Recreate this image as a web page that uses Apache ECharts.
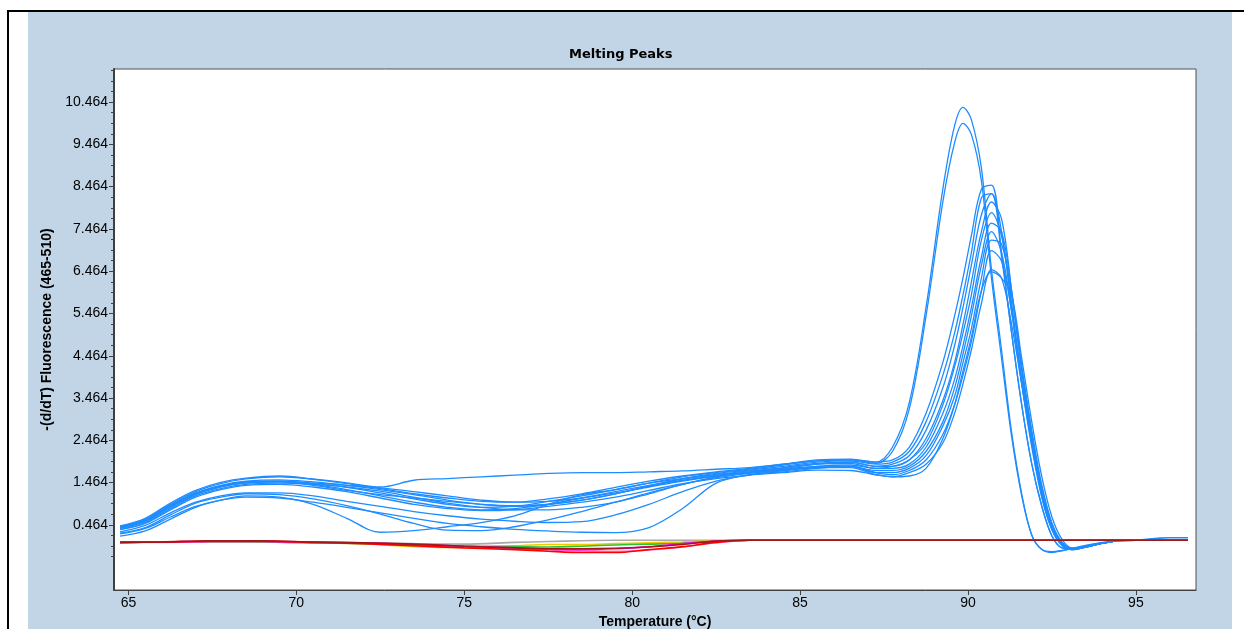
<!DOCTYPE html>
<html><head><meta charset="utf-8">
<script src="https://cdn.jsdelivr.net/npm/echarts@6/dist/echarts.min.js"></script>
<style>
html,body{margin:0;padding:0;background:#fff;width:1244px;height:629px;overflow:hidden}
#frame{position:absolute;left:28px;top:12px;width:1204px;height:617px;background:#c2d5e6}
#topline{position:absolute;left:7px;top:10px;width:1237px;height:2px;background:#000}
#leftline{position:absolute;left:7px;top:10px;width:2px;height:619px;background:#000}
#chart{position:absolute;left:0;top:0;width:1244px;height:629px}
</style></head><body>
<div id="frame"></div><div id="topline"></div><div id="leftline"></div>
<div id="chart"></div>
<script>
// ---- data ----
const xTicks = [65, 70, 75, 80, 85, 90, 95];
const yTicks = [0.464, 1.464, 2.464, 3.464, 4.464, 5.464, 6.464, 7.464, 8.464, 9.464, 10.464];
const yMinorTicks = [-0.286, -0.036, 0.214, 0.714, 0.964, 1.214, 1.714, 1.964, 2.214, 2.714, 2.964, 3.214,
  3.714, 3.964, 4.214, 4.714, 4.964, 5.214, 5.714, 5.964, 6.214, 6.714, 6.964, 7.214, 7.714, 7.964, 8.214,
  8.714, 8.964, 9.214, 9.714, 9.964, 10.214, 10.714, 10.964, 11.214];

const temps = [64.75, 65.5, 66.25, 67, 67.75, 68.5, 69.5, 70.5, 71.5, 72.5, 73.5, 74.5, 75.5, 76.5, 77.5,
  78.5, 79.5, 80.5, 81.5, 82.5, 83.5, 84.5, 85.5, 86.5,
  87.25, 87.75, 88.25, 88.75, 89.25, 89.6, 89.85, 90.1, 90.4, 90.7, 91.0, 91.3, 91.6, 91.9, 92.2, 92.5,
  92.8, 93.1, 93.5, 94.0, 94.4];

const sampleA1 = [0.42,0.6,0.95,1.25,1.44,1.55,1.6,1.54,1.44,1.32,1.2,1.1,1.02,1.0,1.08,1.2,1.35,1.5,1.62,1.72,1.8,1.9,2.0,2.02,
  1.95,2.3,3.35,5.6,8.4,9.9,10.34,10.05,8.9,6.5,4.6,2.65,1.2,0.22,-0.12,-0.19,-0.15,-0.1,-0.03,0.04,0.08];
const sampleA2 = [0.38,0.55,0.9,1.2,1.38,1.48,1.5,1.45,1.35,1.22,1.08,0.95,0.88,0.9,1.02,1.15,1.3,1.45,1.6,1.7,1.78,1.88,1.98,2.0,
  1.92,2.2,3.2,5.4,8.1,9.5,9.96,9.7,8.6,6.3,4.4,2.55,1.15,0.22,-0.12,-0.17,-0.14,-0.09,-0.02,0.05,0.08];
const sampleB1 = [0.44,0.62,0.98,1.28,1.47,1.57,1.62,1.55,1.46,1.36,1.52,1.56,1.6,1.64,1.68,1.7,1.7,1.72,1.74,1.78,1.82,1.9,1.98,2.0,
  1.95,2.0,2.3,3.1,4.3,5.4,6.3,7.3,8.4,8.5,6.9,5.0,3.3,1.9,0.9,0.2,-0.08,-0.11,-0.05,0.03,0.08];
const sampleB2 = [0.42,0.58,0.92,1.22,1.4,1.5,1.53,1.48,1.4,1.3,1.18,1.05,0.95,0.9,0.95,1.05,1.2,1.38,1.55,1.68,1.76,1.85,1.95,1.98,
  1.9,1.95,2.2,2.9,4.0,5.0,5.9,6.9,8.2,8.3,6.8,5.0,3.3,1.9,0.9,0.2,-0.08,-0.1,-0.05,0.03,0.08];
const sampleB3 = [0.4,0.55,0.88,1.18,1.36,1.45,1.48,1.45,1.4,1.34,1.25,1.15,1.05,1.0,1.02,1.1,1.22,1.36,1.5,1.62,1.72,1.8,1.9,1.95,
  1.85,1.9,2.1,2.7,3.7,4.7,5.6,6.6,7.8,8.3,7.4,5.6,3.8,2.3,1.1,0.35,-0.02,-0.12,-0.06,0.03,0.08];
const sampleB4 = [0.4,0.56,0.9,1.2,1.38,1.48,1.5,1.42,1.3,1.15,1.0,0.88,0.82,0.85,0.95,1.1,1.25,1.4,1.55,1.66,1.74,1.82,1.92,1.95,
  1.85,1.85,2.0,2.5,3.4,4.3,5.2,6.2,7.4,8.1,7.7,6.0,4.1,2.5,1.2,0.4,0.0,-0.12,-0.06,0.03,0.08];
const sampleB5 = [0.36,0.52,0.85,1.15,1.32,1.42,1.45,1.42,1.36,1.26,1.12,0.98,0.88,0.82,0.82,0.88,1.0,1.2,1.42,1.6,1.7,1.8,1.9,1.92,
  1.8,1.85,2.0,2.4,3.3,4.2,5.0,5.9,7.2,7.85,7.3,5.7,3.9,2.4,1.15,0.35,-0.02,-0.12,-0.06,0.03,0.08];
const sampleB6 = [0.3,0.45,0.75,1.0,1.15,1.22,1.22,1.15,1.02,0.9,0.78,0.68,0.6,0.55,0.52,0.54,0.7,0.95,1.25,1.5,1.65,1.75,1.85,1.88,
  1.8,1.8,1.9,2.3,3.1,3.9,4.7,5.6,6.8,7.6,7.4,6.0,4.2,2.6,1.3,0.45,0.02,-0.11,-0.06,0.03,0.08];
const sampleB7 = [0.25,0.38,0.65,0.9,1.05,1.12,1.1,1.0,0.88,0.75,0.62,0.5,0.42,0.36,0.32,0.29,0.28,0.4,0.85,1.45,1.65,1.72,1.8,1.85,
  1.75,1.75,1.85,2.2,2.9,3.7,4.5,5.4,6.6,7.4,6.9,5.5,3.8,2.4,1.2,0.4,0.0,-0.11,-0.06,0.03,0.08];
const sampleB8 = [0.2,0.32,0.6,0.88,1.05,1.15,1.12,0.95,0.62,0.29,0.33,0.42,0.52,0.68,0.95,1.18,1.3,1.45,1.56,1.64,1.72,1.78,1.85,1.85,
  1.7,1.7,1.8,2.1,2.8,3.5,4.3,5.1,6.3,7.2,7.1,5.9,4.2,2.7,1.4,0.5,0.05,-0.1,-0.06,0.03,0.08];
const sampleB9 = [0.27,0.4,0.7,0.98,1.12,1.2,1.18,1.08,0.92,0.72,0.5,0.34,0.33,0.42,0.58,0.78,1.0,1.22,1.42,1.58,1.68,1.75,1.82,1.85,
  1.7,1.65,1.75,2.0,2.6,3.3,4.0,4.8,6.0,6.95,6.7,5.5,3.9,2.5,1.3,0.45,0.03,-0.1,-0.06,0.03,0.08];
const sampleB10 = [0.4,0.55,0.9,1.2,1.38,1.46,1.48,1.4,1.28,1.18,1.1,1.02,0.95,0.92,0.95,1.05,1.2,1.38,1.52,1.62,1.7,1.76,1.82,1.82,
  1.65,1.6,1.7,1.9,2.4,3.1,3.8,4.6,5.7,6.5,6.3,5.2,3.8,2.5,1.35,0.5,0.05,-0.1,-0.06,0.03,0.08];
const sampleB11 = [0.35,0.5,0.82,1.12,1.3,1.4,1.42,1.36,1.25,1.1,0.95,0.85,0.8,0.82,0.9,1.0,1.12,1.28,1.44,1.56,1.64,1.7,1.76,1.75,
  1.65,1.6,1.62,1.8,2.5,3.3,4.1,4.9,6.0,6.45,6.3,5.9,4.4,2.9,1.6,0.65,0.12,-0.08,-0.05,0.03,0.08];
const blueSamples = [sampleA1, sampleA2, sampleB1, sampleB2, sampleB3, sampleB4, sampleB5, sampleB6,
  sampleB7, sampleB8, sampleB9, sampleB10, sampleB11];

const tailTemps = [94.4, 95.0, 95.7, 96.0, 96.55];
const tailValues = [0.08, 0.1, 0.15, 0.16, 0.16];

const baseTemps = [64.75, 66, 67.5, 69, 70.5, 72, 73.5, 75, 76.5, 77.5, 78.5, 79.5, 80.5, 81.5, 82.5, 83.5, 85, 88, 91, 94, 96.55];
const ctlGray    = [0.04,0.05,0.06,0.06,0.05,0.04,0.02,0.01,0.05,0.07,0.09,0.1,0.1,0.1,0.1,0.1,0.1,0.1,0.1,0.1,0.1];
const ctlYellow  = [0.05,0.06,0.07,0.06,0.04,0.02,-0.05,-0.07,-0.03,0.0,0.0,0.02,0.04,0.06,0.09,0.1,0.1,0.1,0.1,0.1,0.1];
const ctlGreen   = [0.05,0.06,0.07,0.06,0.04,0.02,-0.02,-0.04,-0.05,-0.06,-0.04,-0.01,0.01,0.03,0.07,0.1,0.1,0.1,0.1,0.1,0.1];
const ctlPink    = [0.05,0.06,0.07,0.07,0.05,0.03,-0.01,-0.06,-0.1,-0.13,-0.15,-0.16,-0.13,-0.06,0.04,0.1,0.1,0.1,0.1,0.1,0.1];
const ctlMagenta = [0.05,0.06,0.07,0.07,0.05,0.04,0.0,-0.04,-0.08,-0.11,-0.12,-0.1,-0.05,0.02,0.08,0.1,0.1,0.1,0.1,0.1,0.1];
const ctlRed     = [0.05,0.06,0.08,0.08,0.05,0.02,-0.03,-0.08,-0.12,-0.16,-0.19,-0.19,-0.12,-0.05,0.05,0.1,0.1,0.1,0.1,0.1,0.1];
const ctlDarkRed = [0.05,0.06,0.09,0.09,0.06,0.04,0.01,-0.04,-0.08,-0.1,-0.1,-0.09,-0.06,0.0,0.08,0.1,0.1,0.1,0.1,0.1,0.1];
const controls = [
  {v: ctlGray, c: '#a8a8a8'}, {v: ctlYellow, c: '#f0c800'}, {v: ctlGreen, c: '#30c030'},
  {v: ctlPink, c: '#ff70c0'}, {v: ctlMagenta, c: '#ff00ff'}, {v: ctlRed, c: '#ff0000'},
  {v: ctlDarkRed, c: '#a01818'}
];

// ---- chart ----
const BLUE = '#1e8cff';
const series = [];
blueSamples.forEach(function (vals) {
  series.push({type: 'line', data: temps.map(function (t, i) { return [t, vals[i]]; }),
    showSymbol: false, smooth: 0.35, lineStyle: {color: BLUE, width: 1.3}, silent: true});
});
series.push({type: 'line', data: tailTemps.map(function (t, i) { return [t, tailValues[i]]; }),
  showSymbol: false, smooth: 0.3, lineStyle: {color: BLUE, width: 1.6}, silent: true});
controls.forEach(function (s) {
  series.push({type: 'line', data: baseTemps.map(function (t, i) { return [t, s.v[i]]; }),
    showSymbol: false, smooth: 0.3, lineStyle: {color: s.c, width: 1.6}, silent: true});
});

const tickFont = 'Liberation Sans';
const chart = echarts.init(document.getElementById('chart'));
chart.setOption({
  animation: false,
  backgroundColor: 'transparent',
  title: {text: 'Melting Peaks', left: 564, top: 43,
    textStyle: {fontFamily: 'DejaVu Sans', fontWeight: 'bold', fontSize: 13, color: '#000'}},
  grid: {left: 114, right: 48, top: 69, bottom: 39, show: true, backgroundColor: '#fff',
    borderColor: '#505050', borderWidth: 1, containLabel: false, outerBoundsMode: 'none'},
  xAxis: {type: 'value', min: 64.57, max: 96.79,
    name: 'Temperature (°C)', nameLocation: 'middle', nameGap: 23,
    nameTextStyle: {fontFamily: tickFont, fontWeight: 'bold', fontSize: 14, color: '#000'},
    axisLine: {show: true, onZero: false, lineStyle: {color: '#404040', width: 1}},
    axisTick: {show: true, customValues: xTicks, length: 5, lineStyle: {color: '#404040'}},
    axisLabel: {customValues: xTicks, color: '#000', fontSize: 14, margin: 6, fontFamily: tickFont},
    splitLine: {show: false}},
  yAxis: [{type: 'value', min: -1.076, max: 11.246,
    name: '-(d/dT) Fluorescence (465-510)', nameLocation: 'middle', nameGap: 57,
    nameTextStyle: {fontFamily: tickFont, fontWeight: 'bold', fontSize: 14, color: '#000'},
    axisLine: {show: true, onZero: false, lineStyle: {color: '#404040', width: 2}},
    axisTick: {show: true, customValues: yTicks, length: 5, lineStyle: {color: '#404040'}},
    axisLabel: {customValues: yTicks, color: '#000', fontSize: 14, margin: 6, fontFamily: tickFont,
      formatter: function (v) { return v.toFixed(3); }},
    splitLine: {show: false}},
   {type: 'value', min: -1.076, max: 11.246, position: 'left',
    axisLine: {show: false, onZero: false},
    axisTick: {show: true, customValues: yMinorTicks, length: 3, lineStyle: {color: '#404040'}},
    axisLabel: {show: false}, splitLine: {show: false}}],
  series: series
});
</script></body></html>
